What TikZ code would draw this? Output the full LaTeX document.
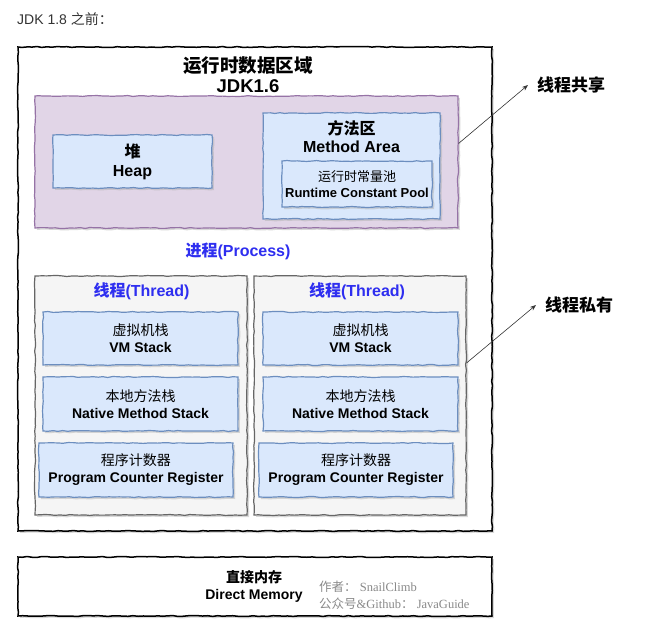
\documentclass[tikz,border=0pt]{standalone}
\usepackage{fontspec}
\setmainfont{Liberation Sans}
\newfontfamily\cjk{Noto Sans CJK SC}
\newfontfamily\wmserif{Liberation Serif}
\usepackage{xcolor}
\usetikzlibrary{arrows.meta,shadows,decorations.pathmorphing}
\definecolor{purpleline}{HTML}{9673A6}
\definecolor{purplefill}{HTML}{E1D5E7}
\definecolor{blueline}{HTML}{6C8EBF}
\definecolor{bluefill}{HTML}{DAE8FC}
\definecolor{grayline}{HTML}{666666}
\definecolor{grayfill}{HTML}{F5F5F5}
\definecolor{procblue}{HTML}{2E2EF0}
\definecolor{wmgray}{HTML}{8A8A8A}
\definecolor{capgray}{HTML}{333333}
\newcommand{\zh}[1]{{\cjk #1}}
\newcommand{\zhr}[1]{{\cjk\mdseries #1}}

\begin{document}
\begin{tikzpicture}[x=1pt,y=-1pt,>=Stealth]
\tikzset{sk/.style={decorate,decoration={random steps,segment length=5pt,amplitude=0.5pt}}, sh/.style={drop shadow={shadow xshift=2pt,shadow yshift=-2pt,fill=black!30}}, o/.style={sk,sh,draw=black,line width=1.5pt,fill=white,inner sep=0pt}, p/.style={sk,sh,draw=purpleline,line width=1.2pt,fill=purplefill,inner sep=0pt}, b/.style={sk,sh,draw=blueline,line width=1.2pt,fill=bluefill,inner sep=0pt,align=center}, g/.style={sk,sh,draw=grayline,line width=1.2pt,fill=grayfill,inner sep=0pt}, t/.style={align=center,inner sep=0pt}, a/.style={-{Stealth[length=6pt,width=4.5pt]},line width=0.6pt,color=black!80}}
\useasboundingbox (0,0) rectangle (665,626);
\node[anchor=west,inner sep=0pt,text=capgray,font=\fontsize{14}{16}\selectfont] (cap) at (17,19) {JDK 1.8 \zh{之前：}};
% runtime data area
\node[o,minimum width=474,minimum height=484] (rt) at (255,289) {};
\node[t,font=\fontsize{18.5}{20}\selectfont\bfseries] (rttitle) at (248,75) {\zh{运行时数据区域}\\JDK1.6};
\node[p,minimum width=423,minimum height=132] (shared) at (246.5,162) {};
\node[b,minimum width=159,minimum height=53,font=\fontsize{16}{19}\selectfont\bfseries] (heap) at (132.5,161.5) {\zh{堆}\\Heap};
\node[b,minimum width=177,minimum height=106] (ma) at (351.5,166) {};
\node[t,font=\fontsize{16}{18}\selectfont\bfseries] (matxt) at (351.5,137) {\zh{方法区}\\Method Area};
\node[b,minimum width=150,minimum height=46,font=\fontsize{13}{16}\selectfont\bfseries] (pool) at (357,184) {\zhr{运行时常量池}\\Runtime Constant Pool};
\node[t,text=procblue,font=\fontsize{16}{19}\selectfont\bfseries] (proc) at (238,251) {\zh{进程}(Process)};
% thread 1
\node[g,minimum width=212,minimum height=239] (t1) at (141,395.5) {};
\node[t,text=procblue,font=\fontsize{16}{19}\selectfont\bfseries] (t1txt) at (141.5,291) {\zh{线程}(Thread)};
\node[b,minimum width=195,minimum height=53,font=\fontsize{14}{17}\selectfont\bfseries] (vm1) at (140.5,338.5) {\zhr{虚拟机栈}\\VM Stack};
\node[b,minimum width=195,minimum height=54,font=\fontsize{14}{17}\selectfont\bfseries] (nm1) at (140.5,404) {\zhr{本地方法栈}\\Native Method Stack};
\node[b,minimum width=194,minimum height=54,font=\fontsize{14}{17}\selectfont\bfseries] (pc1) at (136,470) {\zhr{程序计数器}\\Program Counter Register};
% thread 2
\node[g,minimum width=212,minimum height=239] (t2) at (360,395.5) {};
\node[t,text=procblue,font=\fontsize{16}{19}\selectfont\bfseries] (t2txt) at (357,291) {\zh{线程}(Thread)};
\node[b,minimum width=195,minimum height=53,font=\fontsize{14}{17}\selectfont\bfseries] (vm2) at (360.5,338.5) {\zhr{虚拟机栈}\\VM Stack};
\node[b,minimum width=195,minimum height=54,font=\fontsize{14}{17}\selectfont\bfseries] (nm2) at (360.5,404) {\zhr{本地方法栈}\\Native Method Stack};
\node[b,minimum width=194,minimum height=54,font=\fontsize{14}{17}\selectfont\bfseries] (pc2) at (356,470) {\zhr{程序计数器}\\Program Counter Register};
% side labels
\node[anchor=west,inner sep=9pt,font=\fontsize{17}{20}\selectfont\bfseries] (lshared) at (528,85) {\zh{线程共享}};
\node[anchor=west,inner sep=9pt,font=\fontsize{17}{20}\selectfont\bfseries] (lprivate) at (536,305) {\zh{线程私有}};
\draw[a] (shared.5) -- (lshared.west);
\draw[a] (t2.17) -- (lprivate.west);
% direct memory
\node[o,minimum width=474,minimum height=59] (dm) at (255,586.5) {};
\node[t,font=\fontsize{14}{17}\selectfont\bfseries] (dmtxt) at (254,586.5) {\zh{直接内存}\\Direct Memory};
\node[t,anchor=west,align=left,text=wmgray,font=\fontsize{12.5}{17}\selectfont] (wm) at (319,595) {\zh{作者：}\wmserif\ SnailClimb\\\zh{公众号}\wmserif\&Github\zh{：}\wmserif\ JavaGuide};
\end{tikzpicture}
\end{document}
